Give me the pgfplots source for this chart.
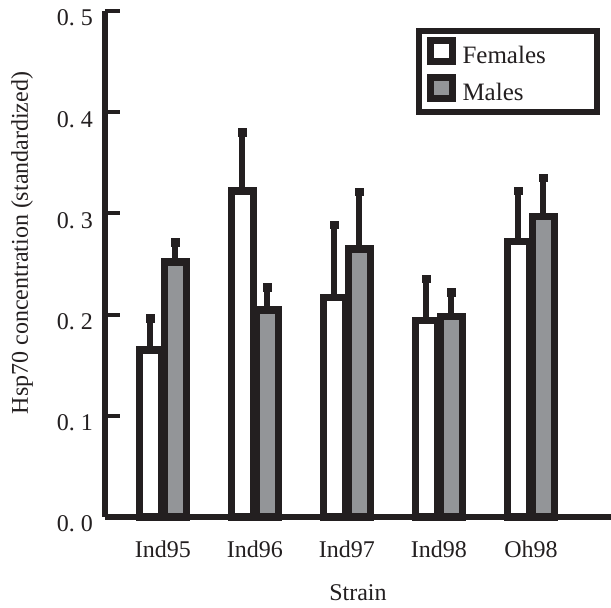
\documentclass[border=0pt]{standalone}
\usepackage{fontspec}
\setmainfont{Liberation Serif}
\usepackage{pgfplots}
\pgfplotsset{compat=1.18}
\definecolor{ink}{HTML}{231F20}
\definecolor{barg}{HTML}{939598}
\begin{document}
\begin{tikzpicture}
\begin{axis}[
  scale only axis, width=506pt, height=506pt,
  xmin=-0.630, xmax=4.870, ymin=0, ymax=0.5,
  clip=false,
  ybar=3pt, bar width=22pt,
  axis lines=left,
  axis line style={-, line width=6pt, color=ink},
  xtick=data,
  xticklabels={Ind95,Ind96,Ind97,Ind98,Oh98},
  x tick style={draw=none},
  xticklabel style={anchor=base, yshift=-41pt, font=\fontsize{24}{26}\selectfont, text=ink},
  ytick={0,0.1,0.2,0.3,0.4,0.5},
  yticklabels={0.\ 0,0.\ 1,0.\ 2,0.\ 3,0.\ 4,0.\ 5},
  tick align=inside,
  ytick pos=left,
  y tick style={line width=4pt, color=ink},
  major tick length=15pt,
  yticklabel style={anchor=base east, inner sep=0pt, xshift=-12pt, yshift=-15pt, font=\fontsize{24}{26}\selectfont, text=ink},
  xlabel={Strain},
  ylabel={Hsp70 concentration (standardized)},
  xlabel style={at={(axis description cs:0.5,0)}, anchor=base, yshift=-84pt, font=\fontsize{24}{26}\selectfont, text=ink},
  ylabel style={at={(axis description cs:-0.164,0.5415)}, rotate=0, anchor=center, font=\fontsize{24}{26}\selectfont, text=ink},
  legend cell align=left,
  legend style={at={(axis description cs:0.9783,0.9665)}, anchor=north east,
    draw=ink, line width=6pt, inner xsep=4.5pt, inner ysep=6pt,
    row sep=4.5pt, column sep=3pt,
    nodes={inner sep=0pt, font=\fontsize{25}{27}\selectfont, text=ink}},
  error bars/error bar style={line width=6pt, color=ink},
  error bars/error mark=square*,
  error bars/error mark options={mark size=3.5pt, line width=1.5pt, draw=ink, fill=ink},
]
\addplot[draw=ink, fill=white, line width=7.5pt,
  legend image code/.code={\draw[draw=ink, fill=white, line width=7pt] (3.5pt,-6.25pt) rectangle (25pt,15.25pt); \path (0pt,-9.75pt) (28.5pt,14.25pt);},
  error bars/.cd, y dir=plus, y explicit]
  coordinates {(0,0.165)+-(0,0.031) (1,0.322)+-(0,0.058) (2,0.217)+-(0,0.0715) (3,0.194)+-(0,0.041) (4,0.272)+-(0,0.050)};
\addplot[draw=ink, fill=barg, line width=7.5pt,
  legend image code/.code={\draw[draw=ink, fill=barg, line width=7pt] (3.5pt,-6.25pt) rectangle (25pt,15.25pt); \path (0pt,-9.75pt) (28.5pt,14.25pt);},
  error bars/.cd, y dir=plus, y explicit]
  coordinates {(0,0.252)+-(0,0.019) (1,0.2045)+-(0,0.0225) (2,0.265)+-(0,0.056) (3,0.198)+-(0,0.024) (4,0.297)+-(0,0.038)};
\legend{\makebox[130pt][l]{Females},Males}
\end{axis}
\pgfresetboundingbox
\path (-105pt,-91pt) rectangle (506pt,517pt);
\end{tikzpicture}
\end{document}
